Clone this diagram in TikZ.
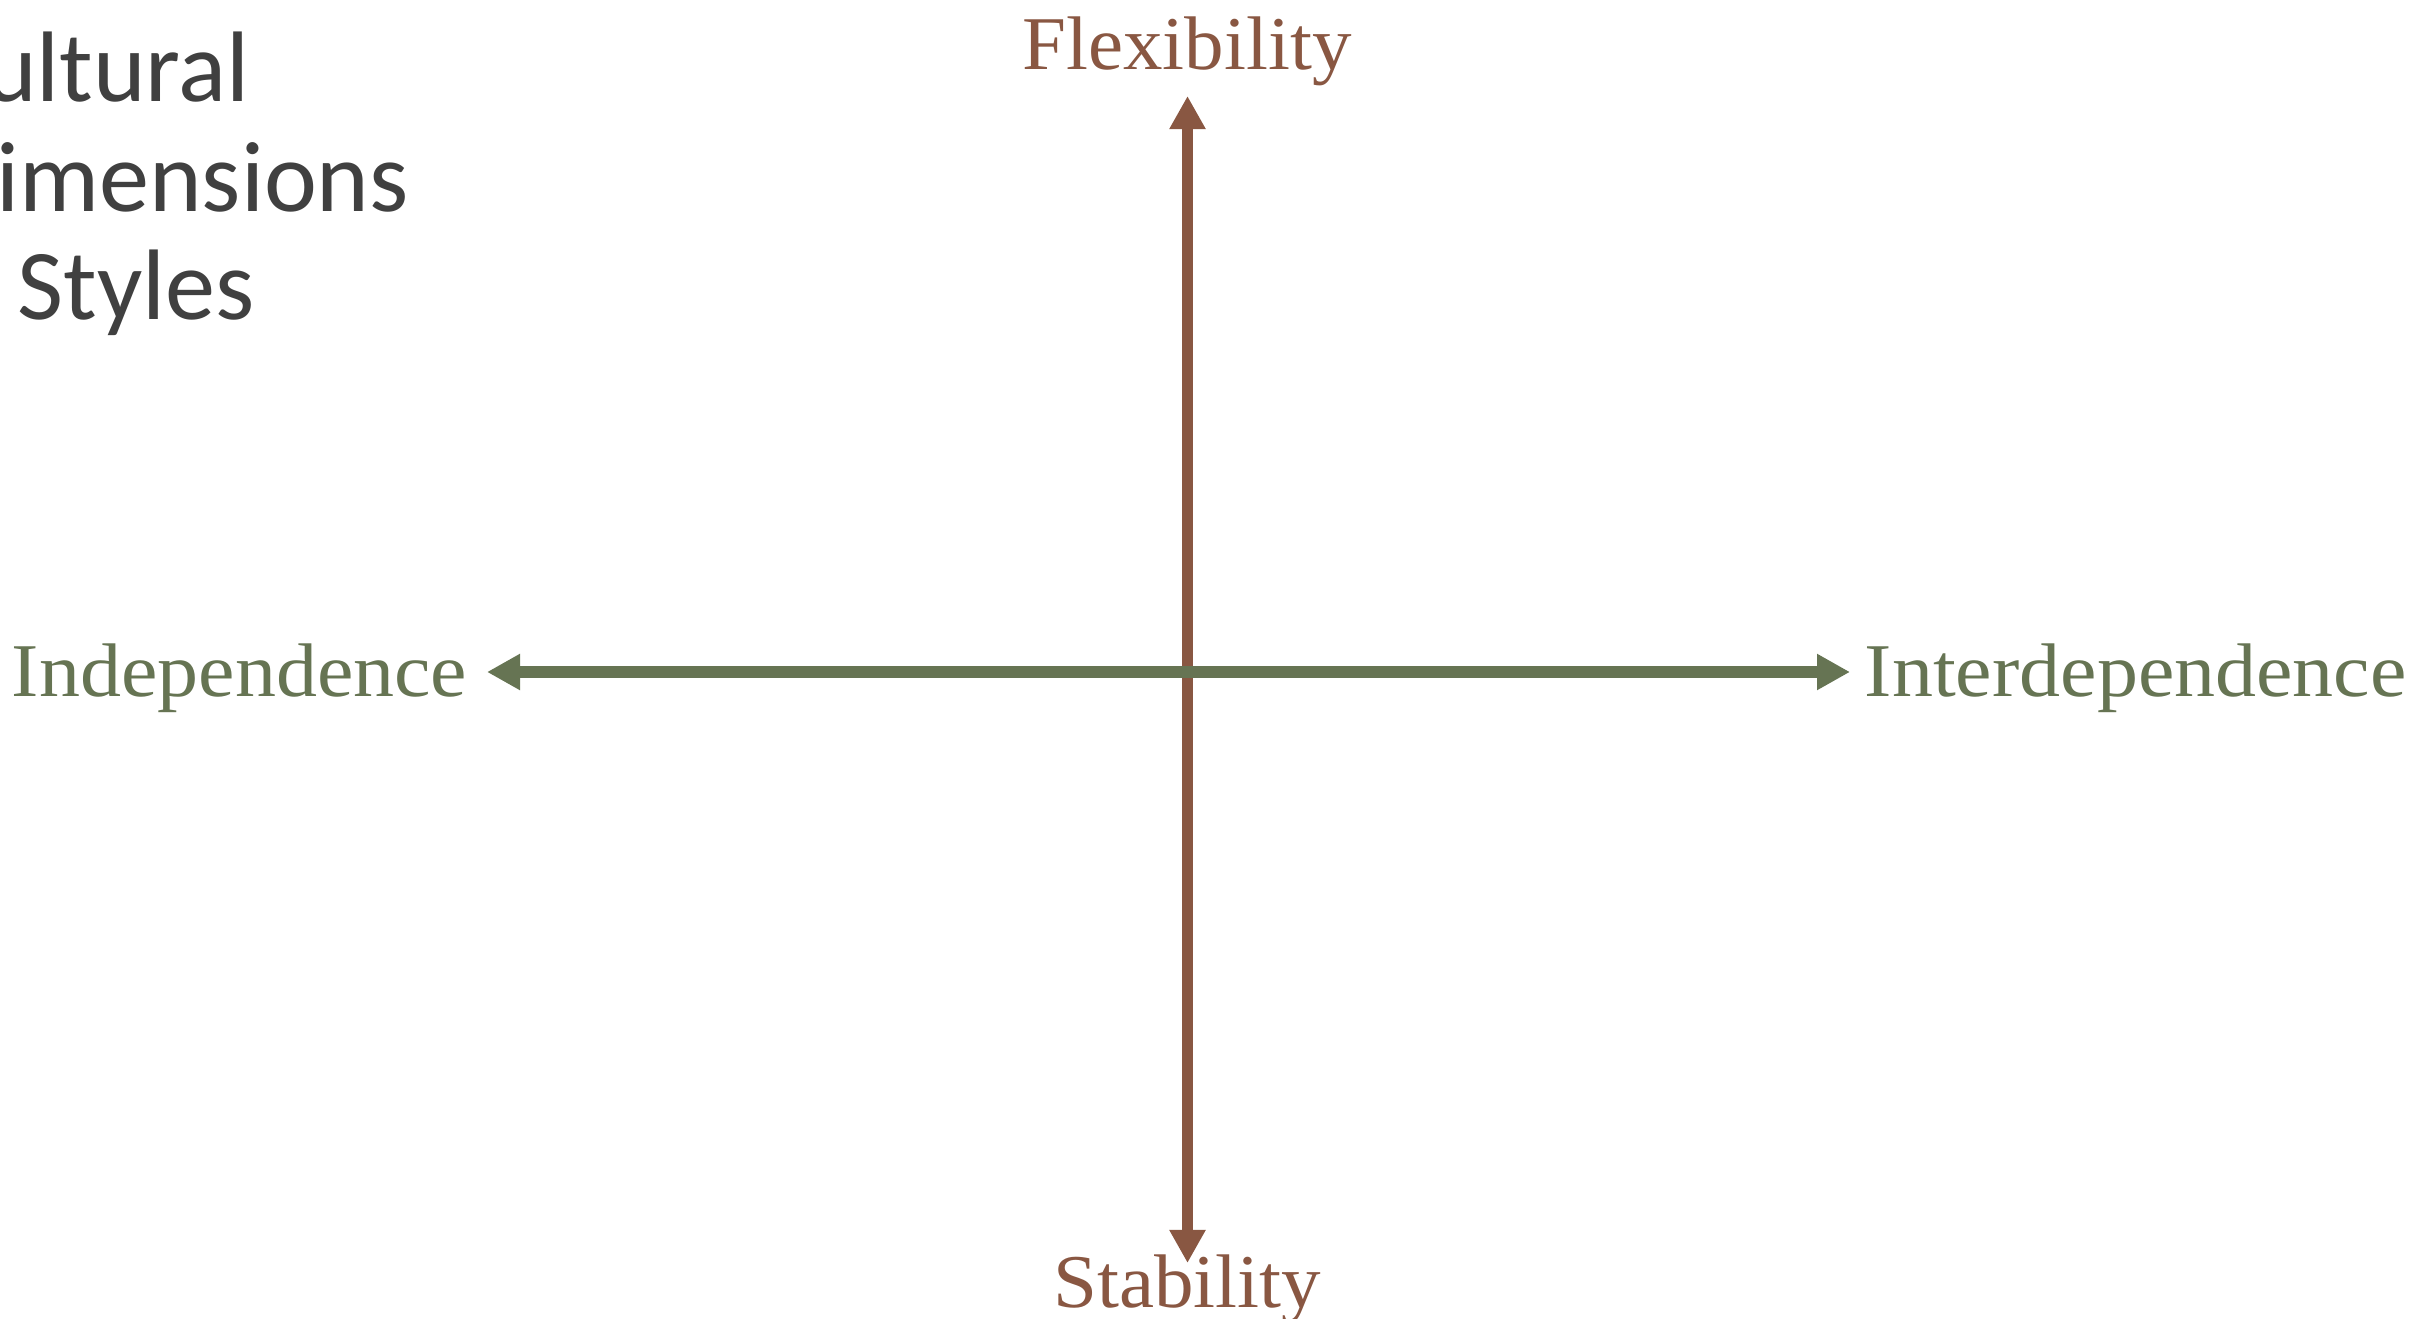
\documentclass[tikz,border=0pt]{standalone}
\usepackage{fontspec}
\usetikzlibrary{arrows.meta}
\newfontfamily\titlefont{Carlito}
\newfontfamily\axisfont[FakeStretch=1.04]{Liberation Serif}
\newfontfamily\axiswidefont[FakeStretch=1.08]{Liberation Serif}
\definecolor{axisbrown}{RGB}{137,87,66}
\definecolor{axisgreen}{RGB}{102,116,83}
\definecolor{titlegray}{RGB}{64,64,64}
\tikzset{
  axisline/.style={line width=0.115cm, {Triangle[length=0.33cm,width=0.34cm]}-{Triangle[length=0.33cm,width=0.34cm]}},
  titleline/.style={anchor=base west, inner sep=0pt, text=titlegray, font=\titlefont\fontsize{28.5}{34}\selectfont},
  axislabel/.style={inner sep=0pt, font=\axisfont\fontsize{21.6}{26}\selectfont},
  widelabel/.style={inner sep=0pt, font=\axiswidefont\fontsize{21.6}{26}\selectfont},
}
\begin{document}
\begin{tikzpicture}[x=0.01cm,y=-0.01cm]
  \useasboundingbox (0,0) rectangle (2430,1319);
  \clip (0,0) rectangle (2430,1319);

  % title, running off the left edge
  \node[titleline] (t1) at (-70,102) {Cultural};
  \node[titleline] (t2) at (-66,212) {Dimensions};
  \node[titleline] (t3) at (17,320) {Styles};

  % axis end points
  \coordinate (ftip) at (1187.5,96);
  \coordinate (stip) at (1187.5,1263);
  \coordinate (itip) at (487,672);
  \coordinate (dtip) at (1850,672);

  % vertical axis, then the horizontal one on top
  \draw[axisline, axisbrown] (stip) -- (ftip);
  \draw[axisline, axisgreen] (itip) -- (dtip);

  % axis labels
  \node[axislabel, text=axisbrown, anchor=base] (flex) at (1187,70) {Flexibility};
  \node[axislabel, text=axisbrown, anchor=base] (stab) at (1187,1307) {Stability};
  \node[widelabel, text=axisgreen, anchor=base east] (indep) at (468,697) {Independence};
  \node[widelabel, text=axisgreen, anchor=base west] (inter) at (1864,697) {Interdependence};
\end{tikzpicture}
\end{document}
